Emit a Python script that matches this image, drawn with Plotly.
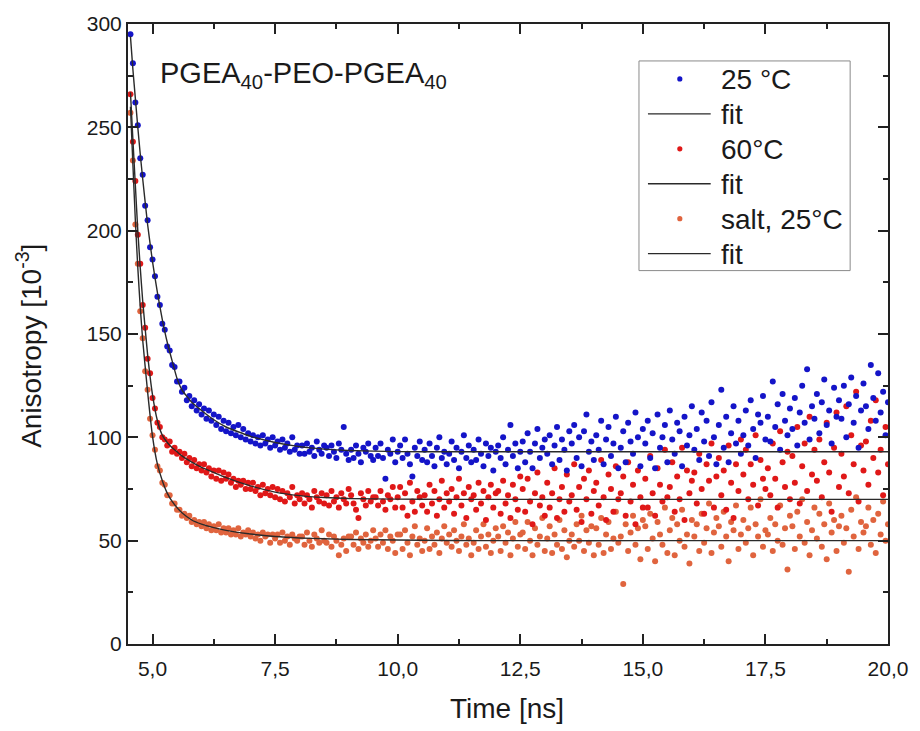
import plotly.graph_objects as go

# ---------------- data ----------------
time_ns = [
    4.55, 4.60, 4.65, 4.70, 4.75, 4.80, 4.85, 4.90, 4.95, 5.00,
    5.05, 5.10, 5.15, 5.20, 5.25, 5.30, 5.35, 5.40, 5.45, 5.50,
    5.55, 5.60, 5.65, 5.70, 5.75, 5.80, 5.85, 5.90, 5.95, 6.00,
    6.05, 6.10, 6.15, 6.20, 6.25, 6.30, 6.35, 6.40, 6.45, 6.50,
    6.55, 6.60, 6.65, 6.70, 6.75, 6.80, 6.85, 6.90, 6.95, 7.00,
    7.05, 7.10, 7.15, 7.20, 7.25, 7.30, 7.35, 7.40, 7.45, 7.50,
    7.55, 7.60, 7.65, 7.70, 7.75, 7.80, 7.85, 7.90, 7.95, 8.00,
    8.05, 8.10, 8.15, 8.20, 8.25, 8.30, 8.35, 8.40, 8.45, 8.50,
    8.55, 8.60, 8.65, 8.70, 8.75, 8.80, 8.85, 8.90, 8.95, 9.00,
    9.05, 9.10, 9.15, 9.20, 9.25, 9.30, 9.35, 9.40, 9.45, 9.50,
    9.55, 9.60, 9.65, 9.70, 9.75, 9.80, 9.85, 9.90, 9.95, 10.00,
    10.05, 10.10, 10.15, 10.20, 10.25, 10.30, 10.35, 10.40, 10.45, 10.50,
    10.55, 10.60, 10.65, 10.70, 10.75, 10.80, 10.85, 10.90, 10.95, 11.00,
    11.05, 11.10, 11.15, 11.20, 11.25, 11.30, 11.35, 11.40, 11.45, 11.50,
    11.55, 11.60, 11.65, 11.70, 11.75, 11.80, 11.85, 11.90, 11.95, 12.00,
    12.05, 12.10, 12.15, 12.20, 12.25, 12.30, 12.35, 12.40, 12.45, 12.50,
    12.55, 12.60, 12.65, 12.70, 12.75, 12.80, 12.85, 12.90, 12.95, 13.00,
    13.05, 13.10, 13.15, 13.20, 13.25, 13.30, 13.35, 13.40, 13.45, 13.50,
    13.55, 13.60, 13.65, 13.70, 13.75, 13.80, 13.85, 13.90, 13.95, 14.00,
    14.05, 14.10, 14.15, 14.20, 14.25, 14.30, 14.35, 14.40, 14.45, 14.50,
    14.55, 14.60, 14.65, 14.70, 14.75, 14.80, 14.85, 14.90, 14.95, 15.00,
    15.05, 15.10, 15.15, 15.20, 15.25, 15.30, 15.35, 15.40, 15.45, 15.50,
    15.55, 15.60, 15.65, 15.70, 15.75, 15.80, 15.85, 15.90, 15.95, 16.00,
    16.05, 16.10, 16.15, 16.20, 16.25, 16.30, 16.35, 16.40, 16.45, 16.50,
    16.55, 16.60, 16.65, 16.70, 16.75, 16.80, 16.85, 16.90, 16.95, 17.00,
    17.05, 17.10, 17.15, 17.20, 17.25, 17.30, 17.35, 17.40, 17.45, 17.50,
    17.55, 17.60, 17.65, 17.70, 17.75, 17.80, 17.85, 17.90, 17.95, 18.00,
    18.05, 18.10, 18.15, 18.20, 18.25, 18.30, 18.35, 18.40, 18.45, 18.50,
    18.55, 18.60, 18.65, 18.70, 18.75, 18.80, 18.85, 18.90, 18.95, 19.00,
    19.05, 19.10, 19.15, 19.20, 19.25, 19.30, 19.35, 19.40, 19.45, 19.50,
    19.55, 19.60, 19.65, 19.70, 19.75, 19.80, 19.85, 19.90, 19.95, 20.00,
]

aniso_25C = [
    295, 281, 262, 251, 235, 227, 212, 205, 192, 186,
    178, 168, 164, 155, 152, 144, 142, 135, 134, 127,
    127, 122, 124, 118, 120, 115, 118, 113, 116, 111,
    114, 109, 113, 108, 111, 106, 110, 104, 108, 103,
    107, 102, 105, 101, 106, 100, 104, 99, 102, 98,
    101, 97, 100, 96, 101, 97, 99, 95, 100, 96,
    98, 94, 99, 95, 97, 93, 100, 94, 96, 92,
    96, 92, 97, 93, 95, 91, 98, 94, 92, 96,
    95, 91, 96, 93, 90, 97, 94, 105, 92, 89,
    94, 90, 96, 92, 88, 95, 93, 97, 91, 89,
    95, 91, 97, 90, 80, 94, 92, 99, 88, 93,
    96, 90, 99, 92, 87, 81, 95, 91, 98, 89,
    94, 88, 97, 91, 86, 95, 100, 90, 93, 87,
    92, 98, 89, 95, 85, 93, 101, 90, 96, 88,
    94, 89, 99, 92, 86, 97, 91, 95, 84, 93,
    96, 90, 100, 87, 94, 106, 91, 97, 85, 93,
    98, 88, 102, 93, 85, 97, 104, 90, 95, 99,
    92, 101, 87, 96, 105, 89, 99, 94, 84, 103,
    97, 106, 90, 100, 86, 103, 111, 93, 98, 89,
    101, 94, 108, 87, 99, 105, 91, 97, 110, 85,
    95, 103, 88, 107, 98, 92, 112, 100, 86, 104,
    97, 108, 90, 102, 85, 111, 95, 100, 106, 88,
    113, 99, 92, 107, 103, 86, 110, 96, 101, 115,
    94, 104, 89, 112, 98, 108, 91, 117, 100, 87,
    106, 123, 95, 110, 88, 102, 115, 97, 108, 92,
    101, 113, 96, 118, 104, 90, 111, 107, 120, 99,
    110, 98, 127, 105, 116, 94, 121, 108, 101, 114,
    104, 119, 96, 112, 125, 107, 133, 99, 115, 109,
    121, 102, 117, 128, 106, 113, 97, 124, 110, 118,
    109, 125, 100, 116, 129, 107, 120, 95, 113, 126,
    115, 104, 135, 119, 108, 131, 112, 122, 101, 117,
]

aniso_60C = [
    266, 243, 224, 198, 184, 164, 153, 138, 131, 119,
    114, 107, 105, 100, 99, 96, 98, 93, 95, 92,
    93, 90, 92, 88, 90, 86, 89, 85, 87, 84,
    87, 83, 85, 81, 84, 80, 84, 79, 83, 80,
    82, 78, 80, 76, 79, 77, 79, 75, 78, 75,
    78, 74, 76, 72, 77, 73, 75, 72, 76, 71,
    75, 70, 74, 69, 73, 71, 76, 68, 72, 70,
    73, 68, 72, 70, 66, 74, 71, 69, 73, 68,
    72, 67, 74, 69, 71, 66, 73, 70, 68, 75,
    72, 68, 65, 61, 73, 70, 67, 74, 69, 71,
    71, 67, 74, 69, 65, 72, 70, 76, 66, 71,
    76, 66, 73, 62, 78, 69, 64, 74, 71, 67,
    72, 64, 77, 68, 74, 62, 70, 79, 66, 73,
    69, 75, 63, 71, 80, 67, 73, 61, 76, 70,
    72, 65, 78, 68, 74, 60, 71, 77, 66, 73,
    74, 63, 79, 68, 72, 61, 77, 70, 65, 81,
    75, 64, 80, 69, 58, 73, 83, 67, 71, 62,
    78, 66, 73, 85, 61, 70, 76, 64, 82, 69,
    72, 87, 65, 76, 59, 80, 70, 84, 63, 74,
    78, 67, 89, 71, 60, 82, 75, 64, 86, 70,
    73, 81, 62, 88, 69, 77, 58, 84, 71, 66,
    80, 66, 91, 73, 62, 85, 77, 69, 94, 71,
    76, 88, 64, 81, 70, 95, 60, 84, 73, 79,
    83, 68, 92, 75, 63, 87, 79, 97, 66, 81,
    90, 72, 84, 65, 96, 78, 61, 87, 74, 99,
    82, 94, 70, 87, 77, 101, 67, 89, 80, 75,
    85, 72, 97, 80, 66, 103, 88, 76, 93, 70,
    91, 78, 105, 68, 86, 97, 74, 110, 82, 94,
    79, 99, 71, 88, 107, 83, 64, 95, 112, 76,
    92, 81, 115, 73, 101, 87, 122, 69, 96, 84,
    98, 77, 108, 90, 118, 83, 94, 72, 105, 87,
]

aniso_salt = [
    257, 234, 203, 184, 161, 148, 132, 123, 109, 101,
    94, 86, 84, 78, 77, 72, 72, 68, 68, 65,
    65, 62, 63, 61, 62, 59, 60, 58, 59, 57,
    59, 56, 58, 55, 57, 55, 58, 54, 56, 54,
    56, 53, 55, 53, 56, 52, 54, 53, 55, 52,
    54, 51, 53, 50, 54, 52, 53, 49, 53, 51,
    53, 49, 54, 50, 52, 48, 53, 51, 50, 52,
    52, 48, 54, 50, 47, 53, 51, 49, 55, 50,
    49, 53, 47, 52, 50, 43, 48, 51, 45, 52,
    52, 48, 54, 46, 51, 49, 53, 47, 50, 55,
    51, 47, 53, 49, 55, 46, 52, 50, 44, 53,
    53, 46, 55, 49, 43, 52, 57, 48, 51, 45,
    50, 56, 46, 52, 48, 54, 44, 51, 57, 49,
    53, 47, 55, 50, 45, 52, 58, 48, 51, 43,
    49, 55, 46, 52, 58, 47, 53, 44, 50, 56,
    52, 45, 57, 49, 54, 43, 51, 59, 47, 53,
    54, 46, 59, 50, 43, 56, 48, 52, 61, 45,
    51, 57, 44, 53, 48, 60, 46, 55, 42, 50,
    53, 47, 58, 50, 62, 45, 55, 49, 57, 43,
    56, 48, 61, 44, 53, 59, 46, 51, 64, 49,
    52, 29, 58, 45, 54, 62, 48, 56, 41, 60,
    57, 46, 63, 51, 40, 59, 53, 48, 66, 44,
    55, 61, 43, 58, 50, 65, 47, 53, 39, 60,
    52, 58, 45, 63, 49, 56, 68, 44, 54, 61,
    57, 47, 64, 52, 40, 59, 55, 67, 46, 53,
    60, 49, 56, 66, 43, 58, 52, 70, 47, 55,
    53, 61, 45, 58, 50, 67, 48, 56, 36, 62,
    57, 46, 64, 52, 70, 49, 59, 43, 55, 66,
    51, 63, 47, 58, 41, 68, 54, 60, 45, 57,
    62, 49, 56, 35, 65, 52, 71, 46, 59, 54,
    57, 66, 48, 60, 44, 63, 53, 69, 50, 58,
]

fit_time = [4.55, 4.60, 4.65, 4.70, 4.75, 4.80, 4.90, 5.00, 5.10, 5.20, 5.30,
            5.40, 5.50, 5.60, 5.80, 6.00, 6.25, 6.50, 7.00, 7.50, 8.00, 8.50,
            9.00, 10.00, 11.00, 12.50, 15.00, 17.50, 20.00]
fit_25C = [294, 278, 264, 250, 237, 225, 203, 185, 170, 157, 146,
           137, 128.5, 123, 117, 113, 108.5, 105, 100.5, 97.5, 95.5, 94.3,
           93.6, 93.1, 93, 93, 93, 93, 93]
fit_60C = [267, 244, 222, 200, 182, 166, 140, 120.5, 108, 101, 97.5,
           95, 93, 91, 88, 85.5, 83, 80.5, 76.5, 73.5, 71.8, 70.9,
           70.4, 70.1, 70, 70, 70, 70, 70]
fit_salt = [260, 232, 205, 182, 163, 147, 122, 100.5, 87, 79, 73,
            69, 66, 63.5, 60, 58, 56.3, 55, 53.2, 52, 51.3, 50.9,
            50.6, 50.3, 50.1, 50, 50, 50, 50]

series_names = ["25 °C", "60°C", "salt, 25°C"]
fit_name = "fit"
x_tick_vals = [5.0, 7.5, 10.0, 12.5, 15.0, 17.5, 20.0]
y_tick_vals = [0, 50, 100, 150, 200, 250, 300]

# ---------------- styling ----------------
FONT = "Liberation Sans, Arial, sans-serif"
TXT = "#1a1a1a"
FIT_COLOR = "#2a2a2a"
colors = ["#1414C8", "#E01818", "#E0643E"]
point_sets = [aniso_25C, aniso_60C, aniso_salt]
fit_sets = [fit_25C, fit_60C, fit_salt]

W, H = 920, 731
ML, MR, MT, MB = 128, 29, 23, 87
PW, PH = W - ML - MR, H - MT - MB


def px(xpix):  # pixel -> paper x
    return (xpix - ML) / PW


def py(ypix):  # pixel -> paper y
    return (H - MB - ypix) / PH


fig = go.Figure()

for i in [2, 1, 0]:
    fig.add_trace(go.Scatter(
        x=time_ns, y=point_sets[i], mode="markers", name=series_names[i],
        marker=dict(color=colors[i], size=6, line=dict(width=0)),
        showlegend=False,
    ))
for i in [2, 1, 0]:
    fig.add_trace(go.Scatter(
        x=fit_time, y=fit_sets[i], mode="lines", name=fit_name,
        line=dict(color=FIT_COLOR, width=1.4, shape="spline", smoothing=0.5),
        showlegend=False,
    ))

axis_common = dict(
    showline=True, linecolor="#222", linewidth=2, mirror="ticks",
    ticks="inside", ticklen=10, tickwidth=1.6, tickcolor="#222",
    showgrid=False, zeroline=False,
    tickfont=dict(family=FONT, size=21, color=TXT),
)

fig.update_xaxes(
    range=[4.5, 20.0], tickmode="array", tickvals=x_tick_vals,
    tickformat=".1f", ticklabelstandoff=5,
    minor=dict(dtick=1.25, tick0=5.0, ticks="inside", ticklen=5,
               tickwidth=1.6, tickcolor="#222"),
    **axis_common,
)
fig.update_yaxes(
    range=[0, 300], tickmode="array", tickvals=y_tick_vals,
    minor=dict(dtick=25, tick0=0, ticks="inside", ticklen=5,
               tickwidth=1.6, tickcolor="#222"),
    **axis_common,
)

annotations = []
# axis titles
annotations.append(dict(
    text="Time [ns]", xref="paper", yref="paper", x=px(508), y=py(709),
    xanchor="center", yanchor="middle", showarrow=False,
    font=dict(family=FONT, size=28, color=TXT)))
annotations.append(dict(
    text="Anisotropy [10<sup>-3</sup>]", xref="paper", yref="paper",
    x=px(29), y=py(345), textangle=-90,
    xanchor="center", yanchor="middle", showarrow=False,
    font=dict(family=FONT, size=28, color=TXT)))
# sample label
annotations.append(dict(
    text="PGEA<sub>40</sub>-PEO-PGEA<sub>40</sub>",
    xref="paper", yref="paper", x=px(158), y=py(74),
    xanchor="left", yanchor="middle", showarrow=False,
    font=dict(family=FONT, size=29, color=TXT)))

# legend (drawn by hand to match spacing)
shapes = [dict(type="rect", xref="paper", yref="paper",
               x0=px(641), x1=px(853), y0=py(270), y1=py(60),
               line=dict(color="#8a8a8a", width=1), fillcolor="white",
               layer="above")]
row_y = [78, 113, 148, 183, 218, 253]
legend_labels = [series_names[0], fit_name, series_names[1], fit_name,
                 series_names[2], fit_name]
for k, ry in enumerate(row_y):
    if k % 2 == 0:
        c = colors[k // 2]
        r = 2.6
        shapes.append(dict(type="circle", xref="paper", yref="paper",
                           x0=px(682 - r), x1=px(682 + r),
                           y0=py(ry + r), y1=py(ry - r),
                           fillcolor=c, line=dict(width=0), layer="above"))
    else:
        shapes.append(dict(type="line", xref="paper", yref="paper",
                           x0=px(650), x1=px(713), y0=py(ry), y1=py(ry),
                           line=dict(color=FIT_COLOR, width=1.4),
                           layer="above"))
    annotations.append(dict(
        text=legend_labels[k], xref="paper", yref="paper",
        x=px(721), y=py(ry + 1), xanchor="left", yanchor="middle",
        showarrow=False, font=dict(family=FONT, size=28, color=TXT)))

fig.update_layout(
    width=W, height=H,
    margin=dict(l=ML, r=MR, t=MT, b=MB),
    paper_bgcolor="white", plot_bgcolor="white",
    separators=", ",
    font=dict(family=FONT, color=TXT),
    showlegend=False,
    shapes=shapes,
    annotations=annotations,
)

fig.write_html("out.html")
